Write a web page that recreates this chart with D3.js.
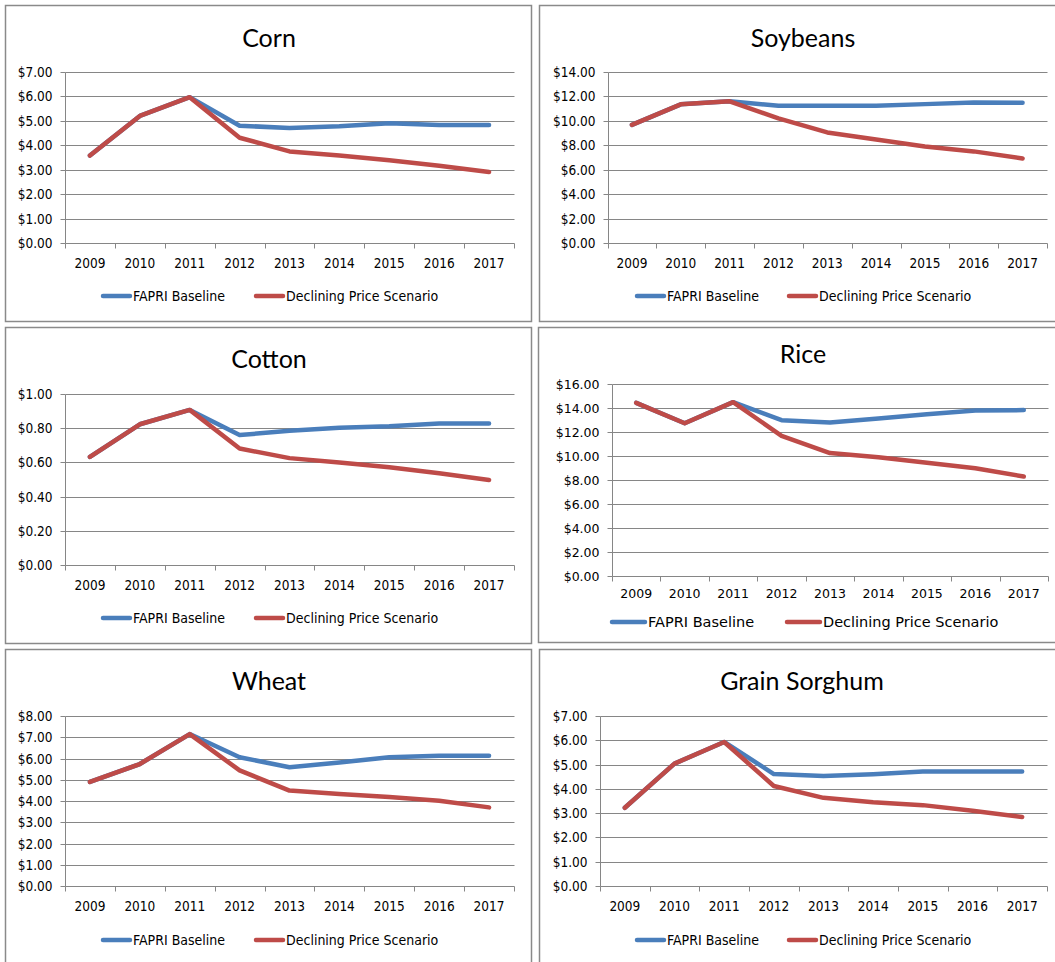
<!DOCTYPE html>
<html>
<head>
<meta charset="utf-8">
<script src="https://cdn.jsdelivr.net/npm/d3@7"></script>
<style>
  html, body { margin: 0; padding: 0; background: #fff; }
  svg { display: block; }
</style>
</head>
<body>
<svg id="chart" width="1055" height="962"></svg>
<script>
// ---------------- DATA ----------------
const years = ["2009", "2010", "2011", "2012", "2013", "2014", "2015", "2016", "2017"];
const seriesNames = ["FAPRI Baseline", "Declining Price Scenario"];

const cornBaseline    = [3.58, 5.20, 5.97, 4.80, 4.71, 4.78, 4.90, 4.83, 4.83];
const cornDeclining   = [3.58, 5.20, 5.97, 4.31, 3.75, 3.58, 3.39, 3.16, 2.91];
const cornTicks       = [0, 1, 2, 3, 4, 5, 6, 7];

const soyBaseline     = [9.67, 11.35, 11.60, 11.24, 11.24, 11.24, 11.37, 11.50, 11.48];
const soyDeclining    = [9.67, 11.35, 11.60, 10.20, 9.05, 8.47, 7.90, 7.50, 6.92];
const soyTicks        = [0, 2, 4, 6, 8, 10, 12, 14];

const cottonBaseline  = [0.632, 0.823, 0.907, 0.760, 0.785, 0.803, 0.811, 0.827, 0.827];
const cottonDeclining = [0.632, 0.823, 0.907, 0.681, 0.625, 0.599, 0.572, 0.536, 0.497];
const cottonTicks     = [0, 0.2, 0.4, 0.6, 0.8, 1.0];

const riceBaseline    = [14.39, 12.70, 14.45, 12.95, 12.76, 13.10, 13.44, 13.76, 13.79];
const riceDeclining   = [14.39, 12.70, 14.45, 11.65, 10.22, 9.87, 9.42, 8.96, 8.27];
const riceTicks       = [0, 2, 4, 6, 8, 10, 12, 14, 16];

const wheatBaseline   = [4.90, 5.74, 7.15, 6.06, 5.59, 5.81, 6.06, 6.13, 6.13];
const wheatDeclining  = [4.90, 5.74, 7.15, 5.44, 4.49, 4.33, 4.19, 4.01, 3.70];
const wheatTicks      = [0, 1, 2, 3, 4, 5, 6, 7, 8];

const sorghumBaseline  = [3.22, 5.04, 5.93, 4.61, 4.53, 4.60, 4.71, 4.71, 4.71];
const sorghumDeclining = [3.22, 5.04, 5.93, 4.12, 3.63, 3.45, 3.33, 3.10, 2.84];
const sorghumTicks     = [0, 1, 2, 3, 4, 5, 6, 7];

const panelTitles = ["Corn", "Soybeans", "Cotton", "Rice", "Wheat", "Grain Sorghum"];
const panelData = [
  [cornBaseline, cornDeclining, cornTicks],
  [soyBaseline, soyDeclining, soyTicks],
  [cottonBaseline, cottonDeclining, cottonTicks],
  [riceBaseline, riceDeclining, riceTicks],
  [wheatBaseline, wheatDeclining, wheatTicks],
  [sorghumBaseline, sorghumDeclining, sorghumTicks]
];

// ---------------- LAYOUT / STYLE ----------------
const colors = ["#4A7EBB", "#BE4B48"];
const gridColor = "#868686";
const borderColor = "#8a8a8a";
const baseFont = "'DejaVu Sans Condensed', 'DejaVu Sans', sans-serif";
const riceFont = "'DejaVu Sans', sans-serif";
const titleFont = "Lato, 'Open Sans', sans-serif";

const layouts = [
  { box: [5, 5, 526, 316],   plot: [65, 514, 72, 243],    titleX: 269, titleY: 37,  yearY: 263, legY: 296, leg: [101, 254], font: baseFont, tick: 13.5, legSize: 14 },
  { box: [539, 5, 530, 316], plot: [607.5, 1047, 72, 243], titleX: 803, titleY: 37,  yearY: 263, legY: 296, leg: [635, 787], font: baseFont, tick: 13.5, legSize: 14 },
  { box: [5, 327, 526, 316], plot: [65, 514, 394, 565],   titleX: 269, titleY: 358, yearY: 585, legY: 618, leg: [101, 254], font: baseFont, tick: 13.5, legSize: 14 },
  { box: [538, 327, 530, 315], plot: [612, 1048, 383.5, 576], titleX: 803, titleY: 353, yearY: 593, legY: 622, leg: [610, 785], font: riceFont, tick: 12.5, legSize: 14.5, legLen: 37 },
  { box: [5, 649, 526, 330], plot: [65, 514, 716, 886],   titleX: 269, titleY: 680, yearY: 906, legY: 940, leg: [101, 254], font: baseFont, tick: 13.5, legSize: 14 },
  { box: [539, 649, 530, 330], plot: [600, 1047, 716, 886], titleX: 802, titleY: 680, yearY: 906, legY: 940, leg: [635, 787], font: baseFont, tick: 13.5, legSize: 14 }
];

const svg = d3.select("#chart");
const crisp = v => Math.round(v) + 0.5;

panelData.forEach((pd, i) => {
  const L = layouts[i];
  const [baseline, declining, ticks] = pd;
  const [bx, by, bw, bh] = L.box;
  const [pl, pr, pt, pb] = L.plot;
  const g = svg.append("g");

  // panel border
  g.append("rect")
    .attr("x", bx + 0.5).attr("y", by + 0.5)
    .attr("width", bw).attr("height", bh)
    .attr("fill", "#fff")
    .attr("stroke", borderColor).attr("stroke-width", 1.5);

  // title
  g.append("text")
    .attr("x", L.titleX).attr("y", L.titleY)
    .attr("text-anchor", "middle").attr("dominant-baseline", "central")
    .attr("font-family", titleFont).attr("font-size", 25)
    .attr("fill", "#000")
    .text(panelTitles[i]);

  const x = d3.scaleBand().domain(years).range([pl, pr]).padding(0);
  const y = d3.scaleLinear().domain([0, d3.max(ticks)]).range([pb, pt]);

  // gridlines (pixel aligned, 1px)
  g.selectAll(".grid").data(ticks).join("line")
    .attr("x1", crisp(pl)).attr("x2", crisp(pr))
    .attr("y1", d => crisp(y(d))).attr("y2", d => crisp(y(d)))
    .attr("stroke", gridColor).attr("stroke-width", 1);

  // y axis
  g.append("g")
    .attr("transform", `translate(${crisp(pl)},0)`)
    .call(d3.axisLeft(y).tickValues(ticks).tickSize(5).tickPadding(8)
      .tickFormat(d => "$" + d.toFixed(2)))
    .call(s => s.select(".domain").attr("stroke", gridColor).attr("stroke-width", 1).attr("d", `M0,${crisp(pt)}V${crisp(pb)}`))
    .call(s => s.selectAll(".tick").attr("transform", d => `translate(0,${crisp(y(d))})`))
    .call(s => s.selectAll("line").attr("stroke", gridColor).attr("stroke-width", 1))
    .call(s => s.selectAll("text").attr("font-family", L.font).attr("font-size", L.tick).attr("fill", "#000"));

  // x axis boundary ticks
  const bounds = years.map(d => x(d)).concat([pr]);
  g.selectAll(".xt").data(bounds).join("line")
    .attr("x1", d => crisp(d)).attr("x2", d => crisp(d))
    .attr("y1", crisp(pb)).attr("y2", crisp(pb) + 5)
    .attr("stroke", gridColor).attr("stroke-width", 1);

  // x labels
  g.append("g")
    .attr("transform", `translate(0,${pb})`)
    .call(d3.axisBottom(x).tickSize(0).tickPadding(0))
    .call(s => s.select(".domain").remove())
    .call(s => s.selectAll("text")
      .attr("y", L.yearY - pb).attr("dy", null)
      .attr("dominant-baseline", "central")
      .attr("font-family", L.font).attr("font-size", L.tick).attr("fill", "#000"));

  // lines
  const line = d3.line()
    .x((d, j) => x(years[j]) + x.bandwidth() / 2)
    .y(d => y(d));
  [baseline, declining].forEach((vals, k) => {
    g.append("path")
      .datum(vals)
      .attr("d", line)
      .attr("fill", "none")
      .attr("stroke", colors[k])
      .attr("stroke-width", 4.5)
      .attr("stroke-linejoin", "round")
      .attr("stroke-linecap", "round");
  });

  // legend
  const legLen = L.legLen || 31;
  seriesNames.forEach((name, k) => {
    const lx = L.leg[k];
    g.append("line")
      .attr("x1", lx + 2).attr("x2", lx + legLen - 2)
      .attr("y1", L.legY).attr("y2", L.legY)
      .attr("stroke", colors[k]).attr("stroke-width", 4.5)
      .attr("stroke-linecap", "round");
    g.append("text")
      .attr("x", lx + legLen + 1).attr("y", L.legY)
      .attr("dominant-baseline", "central")
      .attr("font-family", L.font).attr("font-size", L.legSize)
      .attr("fill", "#000")
      .text(name);
  });
});
</script>
</body>
</html>
